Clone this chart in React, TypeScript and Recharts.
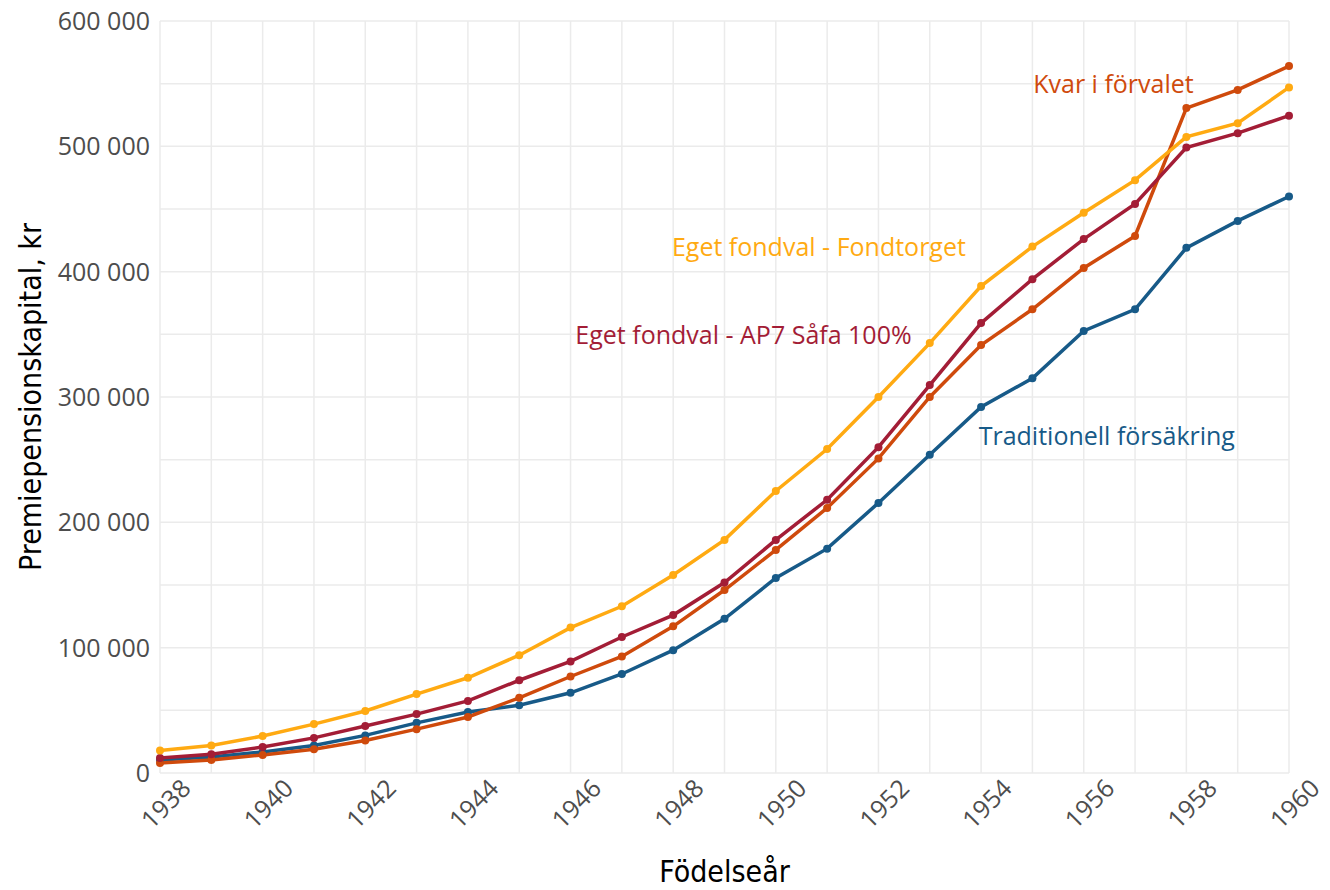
import { CartesianGrid, Line, LineChart, ReferenceDot, XAxis, YAxis } from "recharts"

const years = [
  1938, 1939, 1940, 1941, 1942, 1943, 1944, 1945, 1946, 1947, 1948, 1949,
  1950, 1951, 1952, 1953, 1954, 1955, 1956, 1957, 1958, 1959, 1960,
]

const fondtorget = [
  18000, 22000, 29500, 39000, 49500, 63000, 76000, 94000, 116000, 133000, 158000, 186000,
  225000, 258500, 300000, 343000, 388500, 420000, 447000, 473000, 507500, 518500, 547000,
]

const ap7 = [
  12000, 15000, 20700, 28000, 37500, 47000, 57500, 74000, 89000, 108500, 126000, 152000,
  186000, 218000, 260000, 309500, 359000, 394000, 426000, 454000, 499000, 510500, 524500,
]

const forvalet = [
  8000, 10400, 14400, 19000, 26000, 35000, 44700, 60000, 77000, 93000, 117000, 146000,
  178000, 211500, 251000, 300000, 341500, 370000, 403000, 428500, 530500, 545000, 564000,
]

const traditionell = [
  10400, 12800, 16800, 22000, 30000, 40000, 48700, 54000, 64000, 79000, 98000, 123000,
  155600, 179000, 215500, 254000, 292000, 315000, 352700, 370000, 419000, 440500, 460000,
]

const yTicks = [0, 50000, 100000, 150000, 200000, 250000, 300000, 350000, 400000, 450000, 500000, 550000, 600000]

const data = years.map((year, i) => ({
  year,
  fondtorget: fondtorget[i],
  ap7: ap7[i],
  forvalet: forvalet[i],
  traditionell: traditionell[i],
}))

const C_YELLOW = "#FFAA12"
const C_RED = "#A31D36"
const C_ORANGE = "#CF4A0C"
const C_BLUE = "#175A88"

const tickFont = "'Open Sans', 'Noto Sans', sans-serif"
const titleFont = "'DejaVu Sans', sans-serif"

function fmt(v: number) {
  if (v % 100000 !== 0) return ""
  if (v === 0) return "0"
  return `${v / 1000} 000`
}

function XTick(props: any) {
  const { x, y, payload } = props
  if (payload.value % 2 !== 0) return null
  return (
    <g transform={`translate(${x + 5},${y + 22})`}>
      <text
        transform="rotate(-45)"
        textAnchor="middle"
        dominantBaseline="central"
        fill="#4d4d4d"
        fontSize={25}
        fontFamily={tickFont}
      >
        {payload.value}
      </text>
    </g>
  )
}

const dot = (c: string) => ({ r: 4, fill: c, stroke: c, strokeWidth: 0 })

export default function App() {
  return (
    <div style={{ position: "absolute", left: 0, top: 0, background: "#fff" }}>
      <LineChart width={1330} height={890} data={data} margin={{ top: 21, right: 41, left: 0, bottom: 0 }}>
        <CartesianGrid stroke="#ebebeb" strokeWidth={1.5} />
        <XAxis
          dataKey="year"
          type="number"
          domain={[1938, 1960]}
          ticks={years}
          interval={0}
          height={117}
          tickLine={false}
          axisLine={false}
          tick={<XTick />}
          label={{ value: "Födelseår", position: "insideBottom", offset: 8, fill: "#000", fontSize: 30, fontFamily: titleFont, fontStretch: "condensed" }}
        />
        <YAxis
          type="number"
          domain={[0, 600000]}
          ticks={yTicks}
          interval={0}
          width={160}
          tickLine={false}
          axisLine={false}
          tickMargin={4}
          tickFormatter={fmt}
          tick={{ fill: "#4d4d4d", fontSize: 25, fontFamily: tickFont }}
          label={{
            value: "Premiepensionskapital, kr",
            angle: -90,
            position: "insideLeft",
            offset: 30,
            style: { textAnchor: "middle", fontStretch: "condensed" },
            fill: "#000",
            fontSize: 30,
            fontFamily: titleFont,
          }}
        />
        <Line dataKey="traditionell" stroke={C_BLUE} strokeWidth={3.5} dot={dot(C_BLUE)} activeDot={false} isAnimationActive={false} />
        <Line dataKey="forvalet" stroke={C_ORANGE} strokeWidth={3.5} dot={dot(C_ORANGE)} activeDot={false} isAnimationActive={false} />
        <Line dataKey="ap7" stroke={C_RED} strokeWidth={3.5} dot={dot(C_RED)} activeDot={false} isAnimationActive={false} />
        <Line dataKey="fondtorget" stroke={C_YELLOW} strokeWidth={3.5} dot={dot(C_YELLOW)} activeDot={false} isAnimationActive={false} />
        <ReferenceDot x={1956.58} y={550000} r={0} label={{ value: "Kvar i förvalet", position: "center", fill: C_ORANGE, fontSize: 25, fontFamily: tickFont }} />
        <ReferenceDot x={1950.84} y={419700} r={0} label={{ value: "Eget fondval - Fondtorget", position: "center", fill: C_YELLOW, fontSize: 25, fontFamily: tickFont }} />
        <ReferenceDot x={1949.37} y={349500} r={0} label={{ value: "Eget fondval - AP7 Såfa 100%", position: "center", fill: C_RED, fontSize: 25, fontFamily: tickFont }} />
        <ReferenceDot x={1956.45} y={269000} r={0} label={{ value: "Traditionell försäkring", position: "center", fill: C_BLUE, fontSize: 25, fontFamily: tickFont }} />
      </LineChart>
    </div>
  )
}
